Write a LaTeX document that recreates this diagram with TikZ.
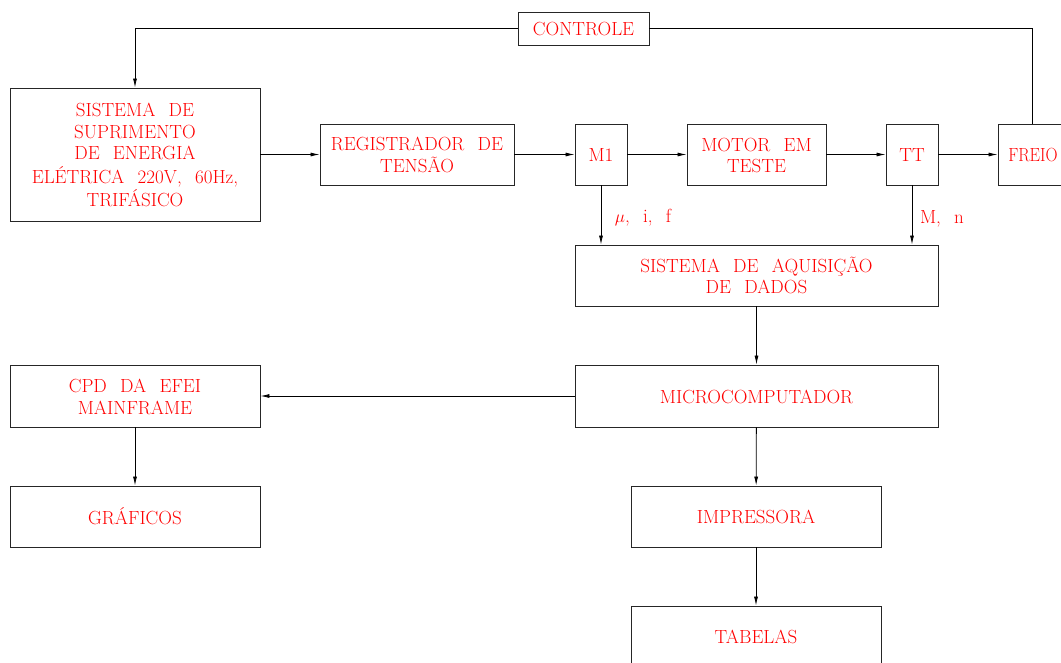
\documentclass[tikz,border=0pt]{standalone}
\usepackage{graphicx}
\usetikzlibrary{arrows.meta}
\newcommand\tx[1]{\raisebox{-3pt}[\height][\depth]{\fontsize{19}{21.5}\selectfont\begin{tabular}{@{}c@{}}#1\end{tabular}}}
\newcommand\gp{\hspace{0.7em}}
\begin{document}
\begin{tikzpicture}[x=1pt,y=-1pt,
  box/.style={draw=black!85, line width=0.9pt, inner sep=0pt, text=red, align=center},
  lbl/.style={inner sep=0pt, text=red, align=center},
  conn/.style={line width=0.8pt, -{Latex[length=9pt,width=4pt]}},
  plain/.style={line width=0.8pt}]
\useasboundingbox (0,0) rectangle (1061,662);
\clip (0,0) rectangle (1061,662);

\node[box, minimum width=250pt, minimum height=133pt] (sis) at (135,154.5)
  {\tx{SISTEMA\gp DE\\SUPRIMENTO\\DE\gp ENERGIA\\ELÉTRICA\gp 220V,\gp 60Hz,\\TRIFÁSICO}};
\node[box, minimum width=194pt, minimum height=61pt] (reg) at (417,154.5)
  {\tx{REGISTRADOR\gp DE\\TENSÃO}};
\node[box, minimum width=52pt, minimum height=61pt] (m1) at (601,154.5) {\tx{M1}};
\node[box, minimum width=139pt, minimum height=61pt] (mot) at (756.5,154.5)
  {\tx{MOTOR\gp EM\\TESTE}};
\node[box, minimum width=52pt, minimum height=61pt] (tt) at (912,154.5) {\tx{TT}};
\node[box, minimum width=70pt, minimum height=61pt] (freio) at (1033,154.5)
  {\scalebox{0.88}[1]{\tx{FREIO}}};
\node[box, minimum width=131pt, minimum height=33pt] (ctrl) at (583.5,28.5) {\tx{CONTROLE}};
\node[box, minimum width=363pt, minimum height=61pt] (aq) at (756.5,275.5)
  {\tx{SISTEMA\gp DE\gp AQUISIÇÃO\\DE\gp DADOS}};
\node[box, minimum width=363pt, minimum height=62pt] (mic) at (756.5,396) {\tx{MICROCOMPUTADOR}};
\node[box, minimum width=250pt, minimum height=62pt] (cpd) at (135,396)
  {\tx{CPD\gp DA\gp EFEI\\MAINFRAME}};
\node[box, minimum width=250pt, minimum height=61pt] (gra) at (135,516.5) {\tx{GRÁFICOS}};
\node[box, minimum width=250pt, minimum height=61pt] (imp) at (756,516.5) {\tx{IMPRESSORA}};
\node[box, minimum width=250pt, minimum height=61pt] (tab) at (756,636.5) {\tx{TABELAS}};

\node[lbl] (lmu) at (643,215) {\tx{$\mu$,\gp i,\gp f}};
\node[lbl] (lmn) at (942,216) {\tx{M,\gp n}};

\draw[conn] (sis.east) -- (reg.west);
\draw[conn] (reg) -- (m1);
\draw[conn] (m1) -- (mot);
\draw[conn] (mot) -- (tt);
\draw[conn] (tt) -- (freio);
\draw[conn] (m1.south) -- (m1.south |- aq.north);
\draw[conn] (tt.south) -- (tt.south |- aq.north);
\draw[conn] (aq) -- (mic);
\draw[conn] (mic.west) -- (cpd.east);
\draw[conn] (cpd) -- (gra);
\draw[conn] (mic) -- (imp);
\draw[conn] (imp) -- (tab);
\draw[conn] (ctrl.west) -| (sis.north);
\draw[plain] (ctrl.east) -| ([xshift=-1pt]freio.north);
\end{tikzpicture}
\end{document}
